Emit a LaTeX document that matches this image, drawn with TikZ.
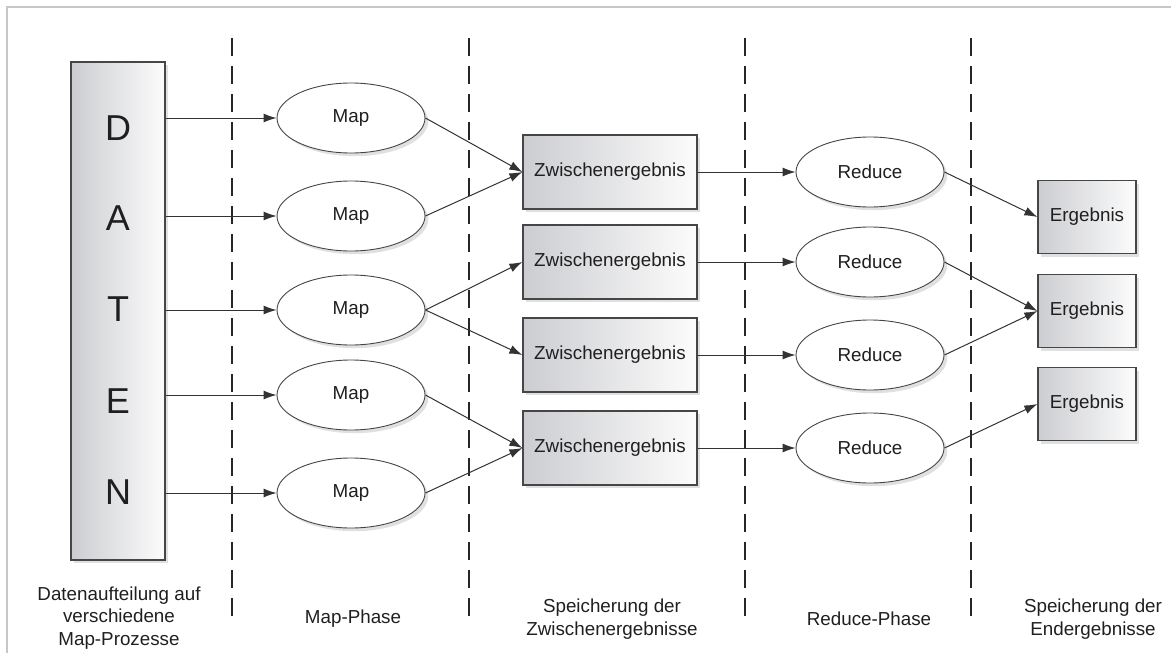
\documentclass[tikz,border=0pt]{standalone}
\usepackage{fontspec}
\setmainfont{Liberation Sans}
\usetikzlibrary{shapes,shadows,arrows.meta,calc}
\definecolor{boxleft}{RGB}{204,205,209}
\definecolor{boxright}{RGB}{252,252,252}
\definecolor{edgegray}{RGB}{70,70,70}

\begin{document}
\begin{tikzpicture}[x=0.5pt,y=-0.5pt,>={Latex[length=6.5pt,width=4.5pt]},
	font=\fontsize{9.4}{11.4}\selectfont,text=black!88,
	shade/.style={drop shadow={shadow xshift=1.6pt,shadow yshift=-1.6pt,fill=black!12,opacity=1}},
	databox/.style={rectangle,draw=edgegray,line width=0.6pt,left color=boxleft,right color=boxright,shade},
	worker/.style={ellipse,draw=edgegray,line width=0.45pt,fill=white,minimum width=74pt,minimum height=35pt,shade},
	phaseline/.style={line width=0.9pt,black!85,dash pattern=on 9pt off 5pt},
	flow/.style={->,line width=0.5pt,black!80}]
	\useasboundingbox (0,0) rectangle (1171,653);
	%frame
	\draw [black!22, line width=0.8pt] (7,653) -- (7,7) -- (1171,7);
	%phase lines
	\draw [phaseline] (232,38) -- (232,624);
	\draw [phaseline] (469,38) -- (469,624);
	\draw [phaseline] (745,38) -- (745,624);
	\draw [phaseline] (971,38) -- (971,624);

	%data
	\node at (118,311) (daten) [databox, minimum width=47pt, minimum height=249pt] {};
	\node at (118,128) (lD) [font=\fontsize{18}{20}\selectfont] {D};
	\node at (118,218) (lA) [font=\fontsize{18}{20}\selectfont] {A};
	\node at (118,309) (lT) [font=\fontsize{18}{20}\selectfont] {T};
	\node at (118,401) (lE) [font=\fontsize{18}{20}\selectfont] {E};
	\node at (118,492) (lN) [font=\fontsize{18}{20}\selectfont] {N};

	%map
	\node at (351,118) (map1) [worker] {Map};
	\node at (351,216) (map2) [worker] {Map};
	\node at (351,310) (map3) [worker] {Map};
	\node at (351,395) (map4) [worker] {Map};
	\node at (351,493) (map5) [worker] {Map};

	%intermediate results
	\node at (610,172) (zw1) [databox, minimum width=87pt, minimum height=37pt] {Zwischenergebnis};
	\node at (610,262) (zw2) [databox, minimum width=87pt, minimum height=37pt] {Zwischenergebnis};
	\node at (610,355) (zw3) [databox, minimum width=87pt, minimum height=37pt] {Zwischenergebnis};
	\node at (610,448) (zw4) [databox, minimum width=87pt, minimum height=37pt] {Zwischenergebnis};

	%reduce
	\node at (870,172) (red1) [worker] {Reduce};
	\node at (870,262) (red2) [worker] {Reduce};
	\node at (870,355) (red3) [worker] {Reduce};
	\node at (870,448) (red4) [worker] {Reduce};

	%results
	\node at (1087,217) (erg1) [databox, minimum width=49pt, minimum height=36.5pt] {Ergebnis};
	\node at (1087,311) (erg2) [databox, minimum width=49pt, minimum height=36.5pt] {Ergebnis};
	\node at (1087,404) (erg3) [databox, minimum width=49pt, minimum height=36.5pt] {Ergebnis};

	%split
	\draw [flow] (daten.east |- map1.west) -- (map1.west);
	\draw [flow] (daten.east |- map2.west) -- (map2.west);
	\draw [flow] (daten.east |- map3.west) -- (map3.west);
	\draw [flow] (daten.east |- map4.west) -- (map4.west);
	\draw [flow] (daten.east |- map5.west) -- (map5.west);

	%map to intermediate
	\draw [flow] (map1.east) -- (zw1.west);
	\draw [flow] (map2.east) -- (zw1.west);
	\draw [flow] (map3.east) -- (zw2.west);
	\draw [flow] (map3.east) -- (zw3.west);
	\draw [flow] (map4.east) -- (zw4.west);
	\draw [flow] (map5.east) -- (zw4.west);

	%intermediate to reduce
	\draw [flow] (zw1.east) -- (red1.west);
	\draw [flow] (zw2.east) -- (red2.west);
	\draw [flow] (zw3.east) -- (red3.west);
	\draw [flow] (zw4.east) -- (red4.west);

	%reduce to results
	\draw [flow] (red1.east) -- (erg1.west);
	\draw [flow] (red2.east) -- (erg2.west);
	\draw [flow] (red3.east) -- (erg2.west);
	\draw [flow] (red4.east) -- (erg3.west);

	%phase names
	\node at (119,618) (cap1) [align=center] {Datenaufteilung auf\\verschiedene\\Map-Prozesse};
	\node at (353,619) (cap2) [align=center] {Map-Phase};
	\node at (612,619) (cap3) [align=center] {Speicherung der\\Zwischenergebnisse};
	\node at (869,619) (cap4) [align=center] {Reduce-Phase};
	\node at (1093,619) (cap5) [align=center] {Speicherung der\\Endergebnisse};
\end{tikzpicture}
\end{document}
